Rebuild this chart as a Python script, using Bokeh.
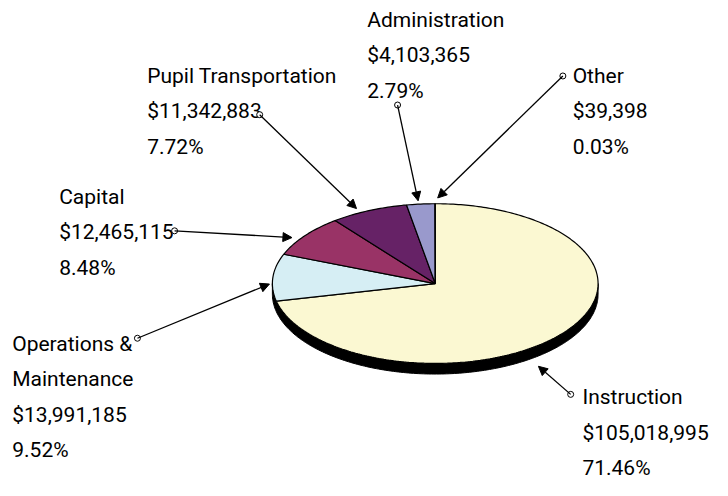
import numpy as np
from bokeh.plotting import figure
from bokeh.models import Range1d, Arrow, NormalHead
from bokeh.core.properties import value
from bokeh.embed import file_html
from bokeh.resources import INLINE

# ---- data ----
categories = ["Instruction", "Operations &\nMaintenance", "Capital",
              "Pupil Transportation", "Administration", "Other"]
amounts = [105018995, 13991185, 12465115, 11342883, 4103365, 39398]
percents = ["71.46%", "9.52%", "8.48%", "7.72%", "2.79%", "0.03%"]
colors = ["#FBF8D2", "#D6EEF4", "#993366", "#662266", "#9999CC", "#777777"]

# ---- layout (reference-pixel coordinates, y downward) ----
W, H = 712, 480
cx, cy, rx, ry, depth = 444.5, 292.5, 166.5, 82.5, 11
label_pos = [(595, 410), (12, 355), (60, 203), (150, 78), (375, 20), (585, 78)]
arrow_from = [(583, 407), (140, 349), (178, 238), (265, 118), (406, 108), (575, 78)]
arrow_to = [(550, 378), (275, 293), (298, 245), (364, 215), (427, 207), (447, 204)]
FONT = "Roboto"
FS = "21px"
LH = 36.5

p = figure(width=W, height=H, output_backend="svg", toolbar_location=None,
           x_range=Range1d(0, 728), y_range=Range1d(496, 0),
           min_border=0, outline_line_color=None)
p.axis.visible = False
p.grid.visible = False

# depth (side of the disk)
th = np.linspace(np.pi, 2 * np.pi, 200)
sx = np.concatenate([cx + rx * np.cos(th), (cx + rx * np.cos(th))[::-1]])
sy = np.concatenate([cy - ry * np.sin(th), (cy - ry * np.sin(th) + depth)[::-1]])
p.patch(sx, sy, fill_color="black", line_color="black", line_width=1)

# slices
total = float(sum(amounts))
cum = 0.0
xs, ys = [], []
for a in amounts:
    t0 = np.pi / 2 - 2 * np.pi * cum / total
    cum += a
    t1 = np.pi / 2 - 2 * np.pi * cum / total
    n = max(3, int(abs(t1 - t0) / (2 * np.pi) * 400))
    t = np.linspace(t0, t1, n)
    xs.append(list(np.concatenate([[cx], cx + rx * np.cos(t)])))
    ys.append(list(np.concatenate([[cy], cy - ry * np.sin(t)])))
p.patches(xs, ys, fill_color=colors, line_color="black", line_width=1.2)

# labels
for cat, amt, pc, (lx, ly) in zip(categories, amounts, percents, label_pos):
    lines = cat.split("\n") + ["${:,}".format(amt), pc]
    p.text(x=[lx] * len(lines), y=[ly + i * LH for i in range(len(lines))],
           text=lines, text_font=value(FONT), text_font_size=FS,
           text_color="#000000", text_align="left", text_baseline="middle")

# connectors
for (x0, y0), (x1, y1) in zip(arrow_from, arrow_to):
    p.add_layout(Arrow(x_start=x0, y_start=y0, x_end=x1, y_end=y1,
                       line_color="black", line_width=1.3,
                       end=NormalHead(size=9, fill_color="black", line_color="black")))
p.scatter([a[0] for a in arrow_from], [a[1] for a in arrow_from], marker="circle",
          size=6, fill_color="white", line_color="black", line_width=1)

open("out.html", "w").write(file_html(p, INLINE))
